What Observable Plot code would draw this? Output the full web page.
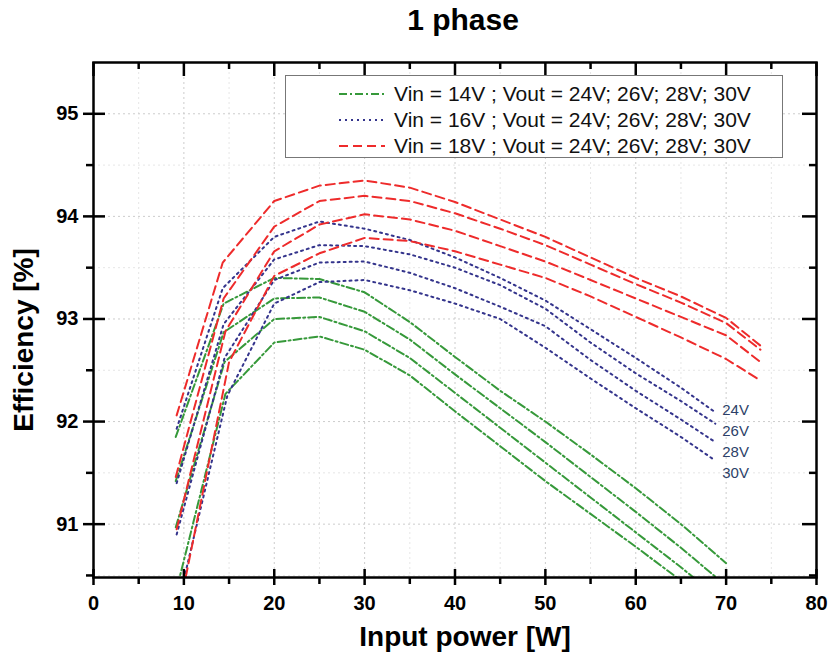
<!DOCTYPE html>
<html><head><meta charset="utf-8">
<script src="https://cdn.jsdelivr.net/npm/d3@7"></script>
<script src="https://cdn.jsdelivr.net/npm/@observablehq/plot@0.6"></script>
<style>
body{margin:0;background:#fff;font-family:"Liberation Sans",Arial,sans-serif;}
#wrap{position:relative;width:828px;height:662px;}
#legend{position:absolute;left:285px;top:75px;width:496px;height:81px;border:1px solid #777;background:#fff;}
.row{position:absolute;left:52px;height:26px;display:flex;align-items:center;font-size:21px;color:#111;white-space:nowrap;}
.row svg{margin-right:8px;}
</style></head><body><div id="wrap"></div>
<script>
// ---- data ----
const vouts = ["24V", "26V", "28V", "30V"];
const vins = ["14V", "16V", "18V"];

// Vin = 14 V (one array per Vout: 24, 26, 28, 30 V)
const vin14Power = [
  [9.1, 14.4, 20, 25, 30, 35, 40, 45, 50, 55, 60, 65, 70],
  [9.1, 14.4, 20, 25, 30, 35, 40, 45, 50, 55, 60, 65, 70],
  [9.1, 14.5, 20, 25, 30, 35, 40, 45, 50, 55, 60, 65, 70],
  [9.3, 14.6, 20, 25, 30, 35, 40, 45, 50, 55, 60, 65, 70]
];
const vin14Eff = [
  [91.85, 93.15, 93.40, 93.39, 93.26, 92.97, 92.63, 92.30, 92.00, 91.68, 91.35, 91.00, 90.62],
  [91.42, 92.87, 93.20, 93.21, 93.07, 92.80, 92.46, 92.13, 91.80, 91.46, 91.12, 90.77, 90.40],
  [90.97, 92.58, 93.00, 93.02, 92.88, 92.62, 92.28, 91.94, 91.60, 91.26, 90.92, 90.58, 90.22],
  [90.40, 92.27, 92.77, 92.83, 92.70, 92.45, 92.10, 91.76, 91.42, 91.10, 90.78, 90.45, 90.10]
];
// Vin = 16 V
const vin16Power = [
  [9.2, 14.3, 20, 25, 30, 35, 40, 45, 50, 55, 60, 65, 68.8],
  [9.2, 14.4, 20, 25, 30, 35, 40, 45, 50, 55, 60, 65, 68.8],
  [9.2, 14.5, 20, 25, 30, 35, 40, 45, 50, 55, 60, 65, 68.8],
  [9.7, 14.8, 20, 25, 30, 35, 40, 45, 50, 55, 60, 65, 68.8]
];
const vin16Eff = [
  [91.93, 93.30, 93.80, 93.95, 93.88, 93.77, 93.60, 93.40, 93.18, 92.90, 92.62, 92.33, 92.09],
  [91.40, 92.95, 93.58, 93.72, 93.71, 93.63, 93.50, 93.33, 93.10, 92.77, 92.47, 92.20, 91.98],
  [90.90, 92.62, 93.38, 93.55, 93.56, 93.45, 93.30, 93.12, 92.93, 92.60, 92.30, 92.02, 91.80],
  [90.35, 92.25, 93.15, 93.36, 93.38, 93.28, 93.15, 93.00, 92.72, 92.42, 92.13, 91.85, 91.62]
];
// Vin = 18 V
const vin18Power = [
  [9.2, 14.3, 20, 25, 30, 35, 40, 45, 50, 55, 60, 65, 70, 73.8],
  [9.1, 14.4, 20, 25, 30, 35, 40, 45, 50, 55, 60, 65, 70, 73.8],
  [9.2, 14.6, 20, 25, 30, 35, 40, 45, 50, 55, 60, 65, 70, 73.8],
  [9.9, 15.0, 20, 25, 30, 35, 40, 45, 50, 55, 60, 65, 70, 73.8]
];
const vin18Eff = [
  [92.06, 93.55, 94.15, 94.30, 94.35, 94.28, 94.14, 93.97, 93.80, 93.60, 93.40, 93.22, 93.01, 92.74],
  [91.46, 93.20, 93.90, 94.15, 94.20, 94.15, 94.03, 93.88, 93.72, 93.53, 93.34, 93.16, 92.96, 92.70],
  [90.95, 92.88, 93.66, 93.92, 94.02, 93.97, 93.86, 93.71, 93.56, 93.38, 93.20, 93.02, 92.84, 92.58],
  [90.35, 92.58, 93.42, 93.64, 93.79, 93.76, 93.66, 93.53, 93.40, 93.22, 93.02, 92.82, 92.61, 92.40]
];

const xMajor = [0, 10, 20, 30, 40, 50, 60, 70, 80];
const xMinor = [5, 15, 25, 35, 45, 55, 65, 75];
const yMajor = [91, 92, 93, 94, 95];
const yMinor = [90.5, 91.5, 92.5, 93.5, 94.5];

const legendLabels = [
  "Vin = 14V ; Vout = 24V; 26V; 28V; 30V",
  "Vin = 16V ; Vout = 24V; 26V; 28V; 30V",
  "Vin = 18V ; Vout = 24V; 26V; 28V; 30V"
];

// ---- styles / layout ----
const colors = {"14V": "#36993a", "16V": "#34348c", "18V": "#ee2b2b"};
const dashes = {"14V": "8,3,2,3", "16V": "2,4", "18V": "9,5"};
const W = 828, H = 662, mL = 93, mR = 12, mT = 62, mB = 85;
const xDom = [0, 80], yDom = [90.48, 95.5];
const fw = W - mL - mR, fh = H - mT - mB;
const pxX = fw / (xDom[1] - xDom[0]);   // pixels per W
const pxY = fh / (yDom[1] - yDom[0]);   // pixels per %

function rowsFor(vin, P, E) {
  const out = [];
  P.forEach((ps, i) => ps.forEach((p, j) => out.push({vin, vout: vouts[i], p, e: E[i][j]})));
  return out;
}
const rows14 = rowsFor("14V", vin14Power, vin14Eff);
const rows16 = rowsFor("16V", vin16Power, vin16Eff);
const rows18 = rowsFor("18V", vin18Power, vin18Eff);

// Vout labels stacked next to the end of the Vin=16V curves
const endP = vin16Power[0][vin16Power[0].length - 1];
const endE = vin16Eff[0][vin16Eff[0].length - 1];
const endLabelMarks = vouts.map((v, i) =>
  Plot.text([{text: v, p: endP, e: endE}], {x: "p", y: "e", text: "text", dx: 7, dy: -2 + 21 * i,
    textAnchor: "start", fontSize: 15, fill: "#2d3f68"}));

const ax = {strokeWidth: 2.5, label: null, color: "#000"};
const tk = {stroke: "#000", strokeWidth: 2.5};

// inward ticks drawn as short rules (lengths in px converted to data units)
const inward = [
  Plot.ruleX(xMajor, {x: d => d, y1: yDom[0], y2: yDom[0] + 8 / pxY, ...tk}),
  Plot.ruleX(xMajor, {x: d => d, y1: yDom[1], y2: yDom[1] - 14 / pxY, ...tk}),
  Plot.ruleX(xMinor, {x: d => d, y1: yDom[1], y2: yDom[1] - 7 / pxY, ...tk}),
  Plot.ruleY(yMajor, {y: d => d, x1: xDom[0], x2: xDom[0] + 12 / pxX, ...tk}),
  Plot.ruleY(yMajor, {y: d => d, x1: xDom[1], x2: xDom[1] - 14 / pxX, ...tk}),
  Plot.ruleY(yMinor, {y: d => d, x1: xDom[1], x2: xDom[1] - 7 / pxX, ...tk})
];

const plot = Plot.plot({
  width: W, height: H,
  marginLeft: mL, marginRight: mR, marginTop: mT, marginBottom: mB,
  style: {fontFamily: "'Liberation Sans', Arial, sans-serif", background: "#fff", color: "#000"},
  x: {domain: xDom},
  y: {domain: yDom},
  marks: [
    Plot.gridX(xMinor, {stroke: "#e6e6e6", strokeOpacity: 1, strokeDasharray: "2,3"}),
    Plot.gridY(yMinor, {stroke: "#e6e6e6", strokeOpacity: 1, strokeDasharray: "2,3"}),
    Plot.gridX(xMajor, {stroke: "#cccccc", strokeOpacity: 1, strokeDasharray: "2,3"}),
    Plot.gridY(yMajor, {stroke: "#cccccc", strokeOpacity: 1, strokeDasharray: "2,3"}),
    ...[["14V", rows14], ["16V", rows16], ["18V", rows18]].map(([vin, rows]) =>
      Plot.line(rows, {x: "p", y: "e", z: "vout", stroke: colors[vin], strokeWidth: 2,
        strokeDasharray: dashes[vin], clip: true})),
    ...endLabelMarks,
    Plot.frame({stroke: "#000", strokeWidth: 2.5}),
    Plot.axisX(xMajor, {...ax, anchor: "bottom", tickSize: 8, tickPadding: 10, fontSize: 20, fontWeight: "bold", tickFormat: d => String(d)}),
    Plot.axisX(xMinor, {...ax, anchor: "bottom", tickSize: 7, tickFormat: () => ""}),
    Plot.axisY(yMajor, {...ax, anchor: "left", tickSize: 10, tickPadding: 5, fontSize: 20, fontWeight: "bold", tickFormat: d => String(d)}),
    Plot.axisY(yMinor, {...ax, anchor: "left", tickSize: 7, tickFormat: () => ""}),
    ...inward,
    Plot.text(["1 phase"], {text: d => d, frameAnchor: "top", dx: 8, dy: -42, fontSize: 30,
      fontWeight: "bold", lineAnchor: "middle", textAnchor: "middle", fill: "#000"}),
    Plot.text(["Input power [W]"], {text: d => d, frameAnchor: "bottom", dx: 10, dy: 60, fontSize: 28,
      fontWeight: "bold", lineAnchor: "middle", textAnchor: "middle", fill: "#000"}),
    Plot.text(["Efficiency [%]"], {text: d => d, frameAnchor: "left", rotate: -90, dx: -69, dy: 20,
      fontSize: 28, fontWeight: "bold", lineAnchor: "middle", textAnchor: "middle", fill: "#000"})
  ]
});

const wrap = document.getElementById("wrap");
wrap.appendChild(plot);

// legend overlay inside the plot frame
const legend = document.createElement("div");
legend.id = "legend";
vins.forEach((vin, i) => {
  const row = document.createElement("div");
  row.className = "row";
  row.style.top = (5 + i * 26) + "px";
  row.innerHTML = `<svg width="48" height="10"><line x1="1" y1="5" x2="47" y2="5" stroke="${colors[vin]}" stroke-width="2" stroke-dasharray="${dashes[vin]}"/></svg><span>${legendLabels[i]}</span>`;
  legend.appendChild(row);
});
wrap.appendChild(legend);
</script></body></html>
